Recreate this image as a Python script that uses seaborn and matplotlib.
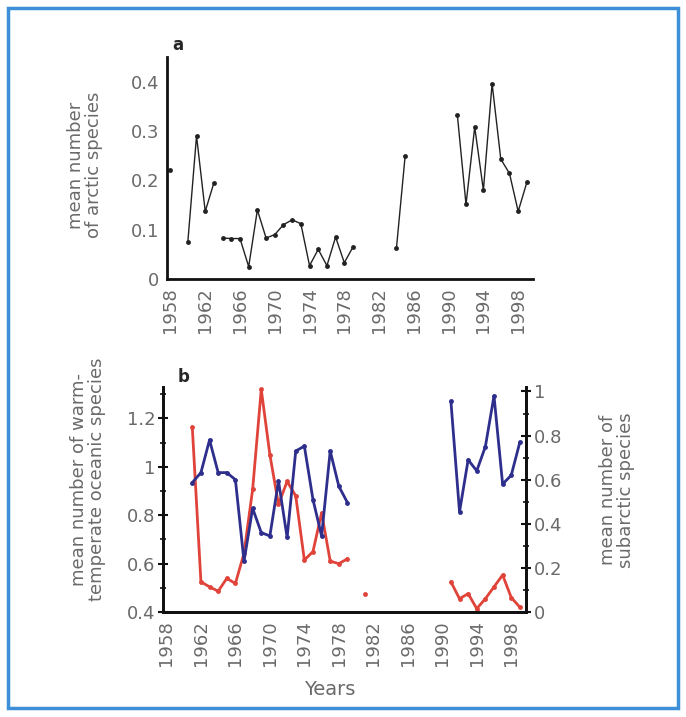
import numpy as np
import pandas as pd
import seaborn as sns
import matplotlib.pyplot as plt
from matplotlib.patches import Rectangle
from matplotlib.ticker import MultipleLocator, FuncFormatter

# panel a: mean number of arctic species (runs of consecutive years)
arctic_starts = [1958, 1960, 1964, 1984, 1991]
arctic_runs = [
    [0.22],
    [0.075, 0.29, 0.137, 0.195],
    [0.083, 0.082, 0.082, 0.025, 0.14, 0.083, 0.09, 0.11, 0.12, 0.112,
     0.027, 0.06, 0.027, 0.085, 0.033, 0.065],
    [0.063, 0.25],
    [0.333, 0.151, 0.308, 0.18, 0.396, 0.243, 0.214, 0.137, 0.196],
]

# panel b: warm-temperate oceanic species (left axis, red)
warm_starts = [1961, 1981, 1991]
warm_runs = [
    [1.164, 0.525, 0.504, 0.486, 0.539, 0.518, 0.643, 0.907, 1.32, 1.05,
     0.845, 0.94, 0.88, 0.615, 0.65, 0.81, 0.61, 0.60, 0.62],
    [0.476],
    [0.525, 0.455, 0.476, 0.414, 0.455, 0.504, 0.553, 0.46, 0.42],
]

# panel b: subarctic species (right axis, blue)
subarctic_starts = [1961, 1991]
subarctic_runs = [
    [0.587, 0.632, 0.78, 0.632, 0.632, 0.60, 0.23, 0.47, 0.36, 0.345,
     0.594, 0.338, 0.73, 0.752, 0.51, 0.345, 0.73, 0.57, 0.496],
    [0.956, 0.454, 0.69, 0.64, 0.75, 0.98, 0.58, 0.62, 0.77],
]

year_ticks = list(range(1958, 1999, 4))


def to_frame(starts, runs):
    rows = []
    for seg, (start, vals) in enumerate(zip(starts, runs)):
        for i, v in enumerate(vals):
            rows.append({'year': start + i, 'value': v, 'segment': seg})
    return pd.DataFrame(rows)


sns.set_style("white")
plt.rcParams['font.family'] = ['DejaVu Sans']

GREY = '#6a6a6a'
RED = '#e0433a'
BLUE = '#2e2f8c'

fig = plt.figure(figsize=(6.86, 7.17), dpi=100)
ax1 = fig.add_axes([0.2434, 0.6109, 0.5335, 0.3096])
ax2 = fig.add_axes([0.2376, 0.1464, 0.5290, 0.3138])
ax3 = ax2.twinx()

fmt = FuncFormatter(lambda v, p: f'{v:g}')

# --- panel a
sns.lineplot(data=to_frame(arctic_starts, arctic_runs), x='year', y='value',
             units='segment', estimator=None, color='#222222', lw=1.0,
             marker='o', markersize=3.5, markeredgewidth=0, ax=ax1)
ax1.set_ylim(0, 0.45)
ax1.yaxis.set_major_locator(MultipleLocator(0.1))
ax1.yaxis.set_minor_locator(MultipleLocator(0.05))
for s in ['top', 'right']:
    ax1.spines[s].set_visible(False)

# --- panel b
sns.lineplot(data=to_frame(warm_starts, warm_runs), x='year', y='value',
             units='segment', estimator=None, color=RED, lw=2.0,
             marker='o', markersize=3.5, markeredgewidth=0, ax=ax2)
sns.lineplot(data=to_frame(subarctic_starts, subarctic_runs), x='year', y='value',
             units='segment', estimator=None, color=BLUE, lw=2.0,
             marker='o', markersize=3.5, markeredgewidth=0, ax=ax3)
ax2.set_ylim(0.4, 1.33)
ax2.yaxis.set_major_locator(MultipleLocator(0.2))
ax2.yaxis.set_minor_locator(MultipleLocator(0.1))
ax3.set_ylim(0, 1.02)
ax3.yaxis.set_major_locator(MultipleLocator(0.2))
ax3.yaxis.set_minor_locator(MultipleLocator(0.1))
ax2.spines['top'].set_visible(False)
ax3.spines['top'].set_visible(False)

for ax in (ax1, ax2, ax3):
    ax.set_xlim(1957.6, 1999.7)
    ax.set_xticks(year_ticks)
    ax.xaxis.set_minor_locator(MultipleLocator(1))
    ax.yaxis.set_major_formatter(fmt)
    ax.set_xlabel('')
    ax.set_ylabel('')
    for s in ax.spines.values():
        s.set_linewidth(2.0)
        s.set_color('#111111')
    ax.tick_params(axis='x', which='both', direction='out', colors='#111111',
                   labelcolor=GREY, labelsize=13, labelrotation=90, pad=2)
    ax.tick_params(axis='x', which='major', length=4, width=1.2)
    ax.tick_params(axis='x', which='minor', length=3, width=1.0)
    ax.tick_params(axis='y', which='both', direction='inout', colors='#111111',
                   labelcolor=GREY, labelsize=13, pad=2)
    ax.tick_params(axis='y', which='major', length=7, width=1.5)
    ax.tick_params(axis='y', which='minor', length=5, width=1.2)

ax3.tick_params(axis='x', which='both', bottom=False, labelbottom=False)

# labels
fig.text(0.259, 0.937, 'a', fontsize=12, fontweight='bold', ha='center', va='center')
fig.text(0.267, 0.474, 'b', fontsize=12, fontweight='bold', ha='center', va='center')
fig.text(0.124, 0.77, 'mean number\nof arctic species', rotation=90, fontsize=13,
         color=GREY, ha='center', va='center', multialignment='center', linespacing=1.0)
fig.text(0.128, 0.331, 'mean number of warm-\ntemperate oceanic species', rotation=90,
         fontsize=13, color=GREY, ha='center', va='center', multialignment='center',
         linespacing=1.0)
fig.text(0.90, 0.317, 'mean number of\nsubarctic species', rotation=90, fontsize=13,
         color=GREY, ha='center', va='center', multialignment='center', linespacing=1.0)
fig.text(0.481, 0.038, 'Years', fontsize=14, color=GREY, ha='center', va='center')

# blue frame
fig.patches.append(Rectangle((8 / 686, 1 - 708 / 717), 670 / 686, 700 / 717,
                             transform=fig.transFigure, fill=False,
                             edgecolor='#3d8fd8', lw=2.5))

fig.savefig('out.png', dpi=100)
plt.close(fig)
